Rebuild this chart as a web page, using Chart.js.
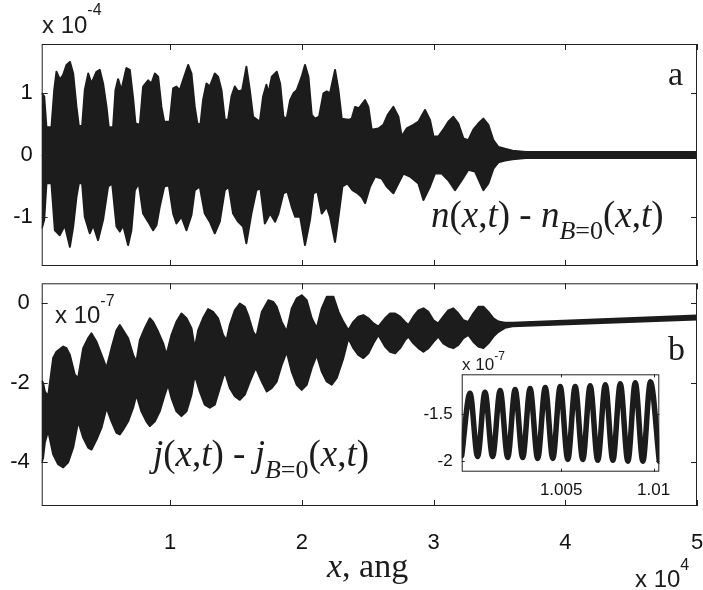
<!DOCTYPE html>
<html>
<head>
<meta charset="utf-8">
<script src="https://cdn.jsdelivr.net/npm/chart.js@4.4.1/dist/chart.umd.min.js"></script>
<style>
  html, body { margin: 0; padding: 0; background: #fff; }
  #wrap { position: relative; width: 703px; height: 590px; overflow: hidden; }
  canvas { position: absolute; }
</style>
</head>
<body>
<div id="wrap">
  <canvas id="cA" width="703" height="275" style="left:0;top:0"></canvas>
  <canvas id="cB" width="703" height="315" style="left:0;top:275px"></canvas>
  <canvas id="cI" width="280" height="160" style="left:395px;top:345px"></canvas>
</div>
<script>
// ── Ticks (x in units of 1e4 ang)
const xTicks = [1, 2, 3, 4, 5];
const aTicks = [-1, 0, 1];          // panel a, units 1e-4
const bTicks = [-4, -2, 0];         // panel b, units 1e-7
const insetXTicks = [1.005, 1.01];
const insetYTicks = [-2, -1.5];

// ── Panel a: envelope of n(x,t) - n_{B=0}(x,t)  [x, value]
const aUpper = [[0.025,1.0],[0.044,0.95],[0.061,0.45],[0.099,0.45],[0.12,1.05],[0.137,1.35],[0.163,1.22],[0.188,1.30],[0.213,1.46],[0.239,1.51],[0.264,1.32],[0.289,0.78],[0.307,0.47],[0.332,0.47],[0.352,1.05],[0.378,1.32],[0.403,1.16],[0.441,1.35],[0.466,1.38],[0.491,1.16],[0.517,0.78],[0.534,0.45],[0.567,0.45],[0.585,1.05],[0.605,1.23],[0.63,1.05],[0.668,1.41],[0.694,1.38],[0.719,0.92],[0.737,0.51],[0.77,0.49],[0.795,1.11],[0.833,1.21],[0.858,1.16],[0.884,1.32],[0.909,1.27],[0.934,0.78],[0.955,0.54],[0.997,0.54],[1.023,1.08],[1.048,1.11],[1.073,1.05],[1.099,1.22],[1.137,1.46],[1.162,1.32],[1.187,0.78],[1.207,0.51],[1.23,0.49],[1.25,0.89],[1.276,1.16],[1.301,1.11],[1.339,1.32],[1.364,1.27],[1.39,1.05],[1.415,0.57],[1.44,0.57],[1.466,0.95],[1.491,1.11],[1.516,1.03],[1.547,1.05],[1.579,1.43],[1.605,1.05],[1.63,0.62],[1.681,0.54],[1.706,0.95],[1.731,1.14],[1.746,1.0],[1.772,1.27],[1.81,1.35],[1.835,1.16],[1.86,0.62],[1.885,0.59],[1.911,0.89],[1.936,1.0],[1.961,1.05],[1.999,1.27],[2.024,1.46],[2.05,1.27],[2.075,0.65],[2.1,0.59],[2.131,0.62],[2.164,1.0],[2.189,1.03],[2.214,1.0],[2.252,1.38],[2.278,1.05],[2.303,0.59],[2.353,0.57],[2.379,0.59],[2.404,0.78],[2.434,0.76],[2.48,0.89],[2.505,0.78],[2.53,0.41],[2.581,0.43],[2.619,0.49],[2.652,0.65],[2.695,0.78],[2.733,0.62],[2.758,0.30],[2.796,0.43],[2.847,0.49],[2.885,0.54],[2.935,0.73],[2.973,0.57],[2.999,0.30],[3.036,0.30],[3.074,0.41],[3.112,0.54],[3.15,0.62],[3.188,0.51],[3.226,0.27],[3.264,0.24],[3.302,0.41],[3.34,0.51],[3.378,0.59],[3.416,0.49],[3.454,0.24],[3.492,0.13],[3.542,0.10],[3.6,0.07],[3.7,0.05],[5.0,0.05]];
const aLower = [[0.025,-1.19],[0.044,-1.05],[0.061,-0.46],[0.099,-0.46],[0.125,-1.22],[0.163,-1.30],[0.2,-1.14],[0.239,-1.49],[0.264,-1.16],[0.289,-0.68],[0.307,-0.46],[0.332,-0.46],[0.352,-1.0],[0.39,-1.27],[0.416,-1.14],[0.453,-1.38],[0.491,-1.05],[0.529,-0.51],[0.56,-0.46],[0.593,-1.16],[0.618,-1.24],[0.643,-1.14],[0.681,-1.46],[0.706,-1.22],[0.732,-0.57],[0.762,-0.46],[0.795,-0.95],[0.833,-1.08],[0.871,-1.22],[0.896,-1.14],[0.921,-0.84],[0.955,-0.51],[0.99,-0.49],[1.023,-0.95],[1.048,-1.11],[1.086,-1.0],[1.124,-1.22],[1.162,-0.97],[1.187,-0.57],[1.225,-0.51],[1.263,-0.95],[1.301,-1.08],[1.339,-1.27],[1.377,-1.08],[1.415,-0.57],[1.445,-0.51],[1.478,-0.95],[1.516,-1.08],[1.554,-1.16],[1.579,-1.43],[1.617,-0.95],[1.655,-0.57],[1.686,-0.54],[1.719,-1.11],[1.759,-0.95],[1.797,-1.08],[1.822,-0.95],[1.86,-0.62],[1.89,-0.59],[1.923,-0.84],[1.949,-1.0],[1.987,-1.0],[2.024,-1.46],[2.062,-1.05],[2.088,-0.62],[2.118,-0.59],[2.151,-0.95],[2.189,-0.84],[2.214,-1.0],[2.252,-1.41],[2.278,-1.0],[2.308,-0.51],[2.346,-0.46],[2.384,-0.57],[2.422,-0.62],[2.455,-0.68],[2.48,-0.78],[2.518,-0.51],[2.556,-0.35],[2.606,-0.38],[2.644,-0.51],[2.695,-0.62],[2.733,-0.46],[2.771,-0.30],[2.821,-0.35],[2.885,-0.46],[2.923,-0.73],[2.973,-0.51],[3.011,-0.30],[3.062,-0.30],[3.112,-0.41],[3.163,-0.57],[3.214,-0.41],[3.264,-0.24],[3.315,-0.27],[3.378,-0.57],[3.416,-0.46],[3.454,-0.22],[3.492,-0.12],[3.542,-0.09],[3.6,-0.07],[3.7,-0.05],[5.0,-0.05]];

// ── Panel b: envelope of j(x,t) - j_{B=0}(x,t)
const bUpper = [[0.025,-1.95],[0.035,-2.0],[0.049,-2.22],[0.074,-2.34],[0.112,-1.38],[0.137,-1.22],[0.188,-1.09],[0.213,-1.13],[0.239,-1.3],[0.276,-1.8],[0.302,-1.88],[0.34,-1.13],[0.378,-0.88],[0.403,-0.76],[0.441,-0.97],[0.479,-1.3],[0.517,-1.63],[0.555,-1.13],[0.593,-0.68],[0.618,-0.55],[0.643,-0.68],[0.681,-0.88],[0.719,-1.3],[0.744,-1.47],[0.77,-0.93],[0.808,-0.63],[0.846,-0.38],[0.871,-0.47],[0.909,-0.72],[0.947,-1.01],[0.972,-1.3],[1.01,-0.8],[1.048,-0.47],[1.086,-0.26],[1.124,-0.38],[1.162,-0.63],[1.187,-1.13],[1.213,-0.68],[1.25,-0.38],[1.288,-0.15],[1.326,-0.22],[1.364,-0.38],[1.402,-0.8],[1.428,-0.93],[1.453,-0.55],[1.491,-0.18],[1.529,-0.01],[1.567,-0.09],[1.592,-0.3],[1.63,-0.72],[1.655,-0.84],[1.696,-0.22],[1.746,0.075],[1.784,0.03],[1.809,-0.09],[1.847,-0.47],[1.885,-0.72],[1.923,-0.13],[1.961,0.12],[1.999,0.2],[2.037,0.075],[2.075,-0.38],[2.113,-0.63],[2.151,-0.13],[2.189,0.16],[2.24,0.16],[2.278,-0.22],[2.315,-0.47],[2.353,-0.68],[2.391,-0.47],[2.429,-0.34],[2.467,-0.3],[2.505,-0.38],[2.543,-0.51],[2.581,-0.59],[2.632,-0.38],[2.67,-0.26],[2.708,-0.26],[2.746,-0.34],[2.783,-0.47],[2.809,-0.55],[2.847,-0.34],[2.885,-0.18],[2.923,-0.13],[2.961,-0.22],[2.999,-0.43],[3.036,-0.51],[3.074,-0.34],[3.112,-0.18],[3.15,-0.13],[3.188,-0.26],[3.226,-0.43],[3.264,-0.47],[3.302,-0.26],[3.34,-0.09],[3.378,-0.09],[3.416,-0.22],[3.454,-0.38],[3.492,-0.46],[3.542,-0.49],[3.6,-0.49],[5.0,-0.31]];
const bLower = [[0.025,-4.0],[0.035,-3.9],[0.049,-3.5],[0.074,-3.2],[0.112,-3.8],[0.15,-4.05],[0.188,-4.13],[0.226,-4.0],[0.264,-3.63],[0.302,-2.97],[0.34,-3.38],[0.378,-3.63],[0.403,-3.68],[0.441,-3.43],[0.479,-3.13],[0.517,-2.63],[0.555,-2.97],[0.593,-3.26],[0.618,-3.3],[0.643,-3.18],[0.681,-2.97],[0.719,-2.63],[0.744,-2.3],[0.782,-2.72],[0.82,-2.97],[0.846,-3.09],[0.884,-2.97],[0.921,-2.72],[0.959,-2.3],[0.985,-2.05],[1.01,-2.38],[1.048,-2.72],[1.086,-2.84],[1.124,-2.72],[1.162,-2.3],[1.187,-1.8],[1.225,-2.22],[1.263,-2.55],[1.301,-2.63],[1.339,-2.55],[1.377,-2.13],[1.415,-1.72],[1.453,-2.13],[1.491,-2.34],[1.529,-2.43],[1.567,-2.3],[1.605,-1.97],[1.65,-1.62],[1.696,-1.97],[1.734,-2.22],[1.772,-2.13],[1.809,-1.97],[1.847,-1.55],[1.885,-1.22],[1.923,-1.72],[1.961,-2.05],[1.999,-2.18],[2.037,-2.05],[2.075,-1.63],[2.113,-1.3],[2.151,-1.72],[2.189,-1.97],[2.227,-2.05],[2.265,-1.88],[2.315,-1.38],[2.353,-0.88],[2.391,-1.13],[2.429,-1.3],[2.467,-1.38],[2.505,-1.26],[2.543,-1.01],[2.581,-0.8],[2.632,-1.09],[2.67,-1.22],[2.708,-1.26],[2.746,-1.13],[2.783,-0.93],[2.809,-0.84],[2.847,-1.01],[2.885,-1.13],[2.923,-1.22],[2.961,-1.13],[2.999,-0.97],[3.036,-0.84],[3.074,-1.01],[3.112,-1.09],[3.15,-1.13],[3.188,-1.05],[3.226,-0.88],[3.264,-0.8],[3.302,-0.97],[3.34,-1.09],[3.378,-1.13],[3.416,-1.01],[3.454,-0.84],[3.492,-0.72],[3.542,-0.62],[3.6,-0.58],[5.0,-0.41]];

// ── Inset: j near x = 1.0e4 ang, troughs and crests
const insetWave = [[0.99962,-1.94],[1.00007,-1.28],[1.00048,-1.95],[1.00088,-1.27],[1.00129,-1.95],[1.00170,-1.25],[1.00211,-1.96],[1.00251,-1.24],[1.00292,-1.96],[1.00332,-1.23],[1.00373,-1.97],[1.00414,-1.22],[1.00455,-1.97],[1.00495,-1.21],[1.00536,-1.98],[1.00576,-1.21],[1.00617,-1.98],[1.00657,-1.20],[1.00698,-1.99],[1.00739,-1.19],[1.00780,-1.99],[1.00820,-1.18],[1.00861,-2.00],[1.00901,-1.17],[1.00942,-2.00],[1.00983,-1.16],[1.01031,-2.00]];

const SANS = '"Liberation Sans", Arial, sans-serif';
const SERIF = '"Liberation Serif", "Times New Roman", serif';
const INK = '#1c1c1c';

const pts = arr => arr.map(([x, y]) => ({ x, y }));

function band(up, lo) {
  return [
    { data: pts(up), borderColor: INK, backgroundColor: INK, borderWidth: 2, pointRadius: 0, fill: '+1', borderJoinStyle: 'round' },
    { data: pts(lo), borderColor: INK, backgroundColor: INK, borderWidth: 2, pointRadius: 0, fill: false, borderJoinStyle: 'round' }
  ];
}

// runs: [text, font, dy]
function drawRuns(ctx, x, y, runs) {
  runs.forEach(([t, f, dy]) => {
    ctx.font = f;
    ctx.fillText(t, x, y + (dy || 0));
    x += ctx.measureText(t).width;
  });
}

function formula(letter, x, y) {
  const it = 'italic 37px ' + SERIF, up = '37px ' + SERIF;
  const subIt = 'italic 26px ' + SERIF, subUp = '26px ' + SERIF;
  return { x, y, runs: [[letter, it], ['(', up], ['x', it], [',', up], ['t', it], [')', up], [' - ', up],
    [letter, it], ['B', subIt, 12], ['=0', subUp, 12], ['(', up], ['x', it], [',', up], ['t', it], [')', up]] };
}

function exp10(x, y, size, sup, dy) {
  return { x, y, runs: [['x 10', size + 'px ' + SANS], [sup, Math.round(size * 0.68) + 'px ' + SANS, dy]] };
}

const frame = {
  id: 'frame',
  beforeDatasetsDraw(chart, args, o) {
    if (!o.bg) return;
    const a = chart.chartArea;
    chart.ctx.save();
    chart.ctx.fillStyle = o.bg;
    chart.ctx.fillRect(a.left, a.top, a.right - a.left, a.bottom - a.top);
    chart.ctx.restore();
  },
  afterDraw(chart, args, o) {
    const { ctx, chartArea: a, scales: { x, y } } = chart;
    ctx.save();
    ctx.strokeStyle = '#222';
    ctx.lineWidth = 1;
    ctx.strokeRect(a.left + 0.5, a.top + 0.5, a.right - a.left - 1, a.bottom - a.top - 1);
    ctx.beginPath();
    o.xt.forEach(v => {
      const p = Math.round(x.getPixelForValue(v)) + 0.5;
      ctx.moveTo(p, a.top); ctx.lineTo(p, a.top + o.len);
      ctx.moveTo(p, a.bottom); ctx.lineTo(p, a.bottom - o.len);
    });
    o.yt.forEach(v => {
      const p = Math.round(y.getPixelForValue(v)) + 0.5;
      ctx.moveTo(a.left, p); ctx.lineTo(a.left + o.len, p);
      ctx.moveTo(a.right, p); ctx.lineTo(a.right - o.len, p);
    });
    ctx.stroke();
    ctx.fillStyle = INK;
    ctx.textBaseline = 'alphabetic';
    ctx.textAlign = 'left';
    (o.texts || []).forEach(t => drawRuns(ctx, t.x, t.y, t.runs));
    ctx.restore();
  }
};

// axis size fixed by hand; label overflow padding dropped so the plot box stays put
function axis(min, max, tickVals, size, pad, show, fit) {
  return {
    type: 'linear', min, max,
    grid: { display: false, drawTicks: false },
    border: { display: false },
    afterBuildTicks: s => { s.ticks = tickVals.map(v => ({ value: v })); },
    afterFit: s => { fit(s); s.paddingLeft = s.paddingRight = s.paddingTop = s.paddingBottom = 0; },
    ticks: { display: show, color: '#111', font: { family: SANS, size }, padding: pad,
      maxRotation: 0, autoSkip: false, callback: v => String(v) }
  };
}

const base = { responsive: false, animation: false, events: [] };

// ── Panel a
new Chart(document.getElementById('cA'), {
  type: 'line',
  data: { datasets: band(aUpper, aLower) },
  options: {
    ...base,
    layout: { padding: { top: 44, bottom: 9, right: 6, left: 0 } },
    plugins: {
      legend: { display: false }, tooltip: { enabled: false },
      frame: { xt: xTicks, yt: aTicks, len: 6, texts: [
        exp10(42, 33, 24, '-4', -18),
        { x: 668, y: 85, runs: [['a', '34px ' + SERIF]] },
        formula('n', 431, 227)
      ] }
    },
    scales: {
      x: axis(0.025, 5, xTicks, 22, 0, false, s => { s.height = 0; }),
      y: axis(-1.8, 1.8, aTicks, 22, 9, true, s => { s.width = 41.7; })
    }
  },
  plugins: [frame]
});

// ── Panel b
new Chart(document.getElementById('cB'), {
  type: 'line',
  data: { datasets: band(bUpper, bLower) },
  options: {
    ...base,
    layout: { padding: { top: 8.3, bottom: 0, right: 6, left: 0 } },
    plugins: {
      legend: { display: false }, tooltip: { enabled: false },
      frame: { xt: xTicks, yt: bTicks, len: 6, texts: [
        exp10(55, 48, 24, '-7', -17),
        { x: 668, y: 85, runs: [['b', '34px ' + SERIF]] },
        formula('j', 153, 191),
        { x: 327, y: 302, runs: [['x', 'italic 34px ' + SERIF], [', ang', '34px ' + SERIF]] },
        exp10(635, 312, 24, '4', -17)
      ] }
    },
    scales: {
      x: axis(0.025, 5, xTicks, 22, 24, true, s => { s.height = 84; }),
      y: axis(-5.1, 0.5, bTicks, 22, 12, true, s => { s.width = 41.7; })
    }
  },
  plugins: [frame]
});

// ── Inset
new Chart(document.getElementById('cI'), {
  type: 'line',
  data: { datasets: [{ data: pts(insetWave), borderColor: INK, borderWidth: 5.5, pointRadius: 0, fill: false,
    cubicInterpolationMode: 'monotone', borderCapStyle: 'round', borderJoinStyle: 'round' }] },
  options: {
    ...base,
    layout: { padding: { top: 29.3, bottom: 0, right: 15.7, left: 0 } },
    plugins: {
      legend: { display: false }, tooltip: { enabled: false },
      frame: { bg: '#fff', xt: insetXTicks, yt: insetYTicks, len: 3, texts: [
        exp10(67, 25, 17, '-7', -10)
      ] }
    },
    scales: {
      x: axis(0.99962, 1.01031, insetXTicks, 17, 8, true, s => { s.height = 33.3; }),
      y: axis(-2.11, -1.08, insetYTicks, 17, 9, true, s => { s.width = 66.7; })
    }
  },
  plugins: [frame]
});
</script>
</body>
</html>
